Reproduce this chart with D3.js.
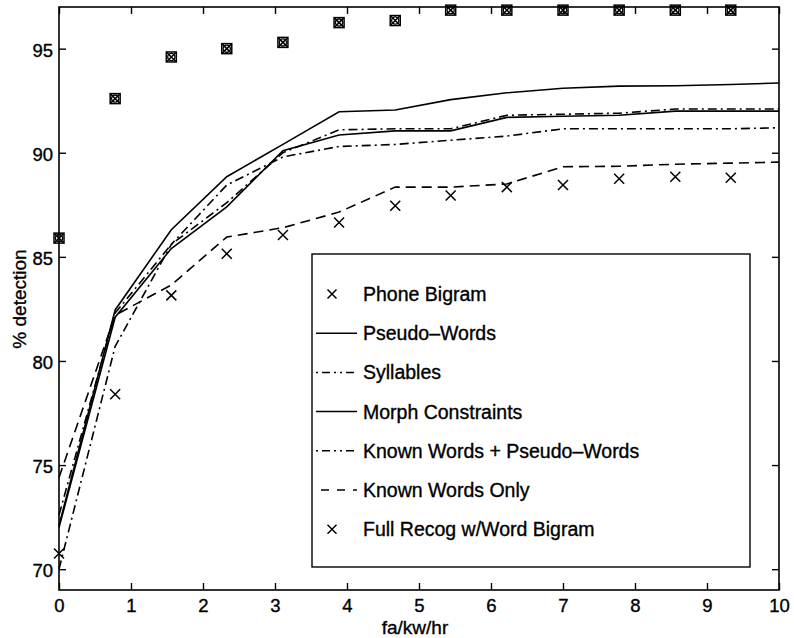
<!DOCTYPE html>
<html>
<head>
<meta charset="utf-8">
<script src="https://cdn.jsdelivr.net/npm/d3@7"></script>
<style>
  body { margin: 0; background: #fff; }
  svg { display: block; font-family: "Liberation Sans", Arial, sans-serif; }
  text { stroke: #000; stroke-width: 0.35px; }
</style>
</head>
<body>
<svg id="chart" width="794" height="638"></svg>
<script>
// x positions of the measured points (fa/kw/hr)
const markerX = [0, 0.78, 1.56, 2.33, 3.11, 3.89, 4.67, 5.44, 6.22, 7.0, 7.78, 8.56, 9.33];
const lineX = [0, 0.78, 1.56, 2.33, 3.11, 3.89, 4.67, 5.44, 6.22, 7.0, 7.78, 8.56, 9.33, 10];

const phoneBigram = [70.75, 78.4, 83.15, 85.15, 86.05, 86.65, 87.45, 87.95, 88.35, 88.45, 88.75, 88.85, 88.8];
const fullRecog = [85.9, 92.6, 94.6, 95.0, 95.3, 96.25, 96.35, 96.85, 96.85, 96.85, 96.85, 96.85, 96.85];
const pseudoWords = [72.1, 82.45, 86.3, 88.85, 90.4, 91.97, 92.05, 92.55, 92.88, 93.1, 93.2, 93.22, 93.28, 93.35];
const syllables = [70.0, 80.7, 85.6, 88.45, 89.8, 90.3, 90.4, 90.6, 90.8, 91.15, 91.15, 91.15, 91.15, 91.2];
const morphConstraints = [72.0, 82.1, 85.4, 87.4, 90.1, 90.85, 91.05, 91.05, 91.7, 91.75, 91.8, 92.0, 92.0, 92.0];
const knownPseudo = [72.6, 82.3, 85.6, 87.6, 90.0, 91.1, 91.15, 91.15, 91.8, 91.85, 91.9, 92.1, 92.1, 92.1];
const knownOnly = [74.4, 82.2, 83.65, 85.95, 86.4, 87.15, 88.35, 88.35, 88.5, 89.33, 89.35, 89.45, 89.5, 89.55];

const xTicks = [0, 1, 2, 3, 4, 5, 6, 7, 8, 9, 10];
const yTicks = [70, 75, 80, 85, 90, 95];
const legendLabels = ["Phone Bigram", "Pseudo\u2013Words", "Syllables", "Morph Constraints",
  "Known Words + Pseudo\u2013Words", "Known Words Only", "Full Recog w/Word Bigram"];

const svg = d3.select("#chart");
const x = d3.scaleLinear().domain([0, 10]).range([59, 779]);
const y = d3.scaleLinear().domain([69, 97]).range([590, 7]);

const dashed = "10,6";
const dashDot = "9,4,2,4";

// axes (ticks pointing inward, mirrored on top and right)
const tickLen = 7;
svg.append("g").attr("transform", "translate(0,590)")
  .call(d3.axisBottom(x).tickValues(xTicks).tickSize(-tickLen).tickPadding(9).tickFormat(d3.format("d")))
  .call(g => g.select(".domain").remove())
  .call(g => g.selectAll("text").attr("font-size", 18.5).attr("fill", "#000").attr("font-family", "Liberation Sans, Arial"));
svg.append("g").attr("transform", "translate(0,7)")
  .call(d3.axisTop(x).tickValues(xTicks).tickSize(-tickLen).tickFormat(""))
  .call(g => g.select(".domain").remove());
svg.append("g").attr("transform", "translate(59,0)")
  .call(d3.axisLeft(y).tickValues(yTicks).tickSize(-tickLen).tickPadding(6))
  .call(g => g.select(".domain").remove())
  .call(g => g.selectAll("text").attr("font-size", 18.5).attr("fill", "#000").attr("dy", "0.42em").attr("font-family", "Liberation Sans, Arial"));
svg.append("g").attr("transform", "translate(779,0)")
  .call(d3.axisRight(y).tickValues(yTicks).tickSize(-tickLen).tickFormat(""))
  .call(g => g.select(".domain").remove());
svg.selectAll(".tick line").attr("stroke", "#000").attr("stroke-width", 1.4);

svg.append("rect")
  .attr("x", x(0)).attr("y", y(97))
  .attr("width", x(10) - x(0)).attr("height", y(69) - y(97))
  .attr("fill", "none").attr("stroke", "#000").attr("stroke-width", 1.6);

// axis titles
svg.append("text").attr("x", 415).attr("y", 634)
  .attr("text-anchor", "middle").attr("font-size", 19).text("fa/kw/hr");
svg.append("text").attr("transform", "translate(26,299) rotate(-90)")
  .attr("text-anchor", "middle").attr("font-size", 19).text("% detection");

// lines
const line = d3.line().x((d, i) => x(lineX[i])).y(d => y(d));
const series = [
  { values: knownOnly, dash: dashed },
  { values: syllables, dash: dashDot },
  { values: knownPseudo, dash: dashDot },
  { values: morphConstraints, dash: null },
  { values: pseudoWords, dash: null }
];
series.forEach(s => {
  svg.append("path").datum(s.values)
    .attr("d", line)
    .attr("fill", "none")
    .attr("stroke", "#000")
    .attr("stroke-width", 1.6)
    .attr("stroke-dasharray", s.dash);
});

// markers
function cross(g, cx, cy, r) {
  g.append("path")
    .attr("d", `M${cx - r},${cy - r}L${cx + r},${cy + r}M${cx - r},${cy + r}L${cx + r},${cy - r}`)
    .attr("stroke", "#000").attr("stroke-width", 1.5).attr("fill", "none");
}
const markG = svg.append("g");
phoneBigram.forEach((v, i) => cross(markG, x(markerX[i]), y(v), 5));
fullRecog.forEach((v, i) => {
  const cx = x(markerX[i]), cy = y(v);
  markG.append("rect").attr("x", cx - 5).attr("y", cy - 5).attr("width", 10).attr("height", 10)
    .attr("fill", "none").attr("stroke", "#000").attr("stroke-width", 1.5);
  markG.append("circle").attr("cx", cx).attr("cy", cy).attr("r", 3.6)
    .attr("fill", "none").attr("stroke", "#000").attr("stroke-width", 1.3);
  cross(markG, cx, cy, 4.5);
});

// legend
const leg = svg.append("g");
leg.append("rect").attr("x", 312).attr("y", 254).attr("width", 438).attr("height", 313)
  .attr("fill", "#fff").attr("stroke", "#000").attr("stroke-width", 1.4);
const legendKinds = ["x", "solid", "dashdot", "solid", "dashdot", "dashed", "x"];
legendLabels.forEach((label, i) => {
  const ly = 294 + i * 39.2;
  const kind = legendKinds[i];
  if (kind === "x") {
    cross(leg, 332, ly, 4.5);
  } else {
    leg.append("line").attr("x1", kind === "dashed" ? 321 : 316).attr("x2", 357)
      .attr("y1", ly).attr("y2", ly)
      .attr("stroke", "#000").attr("stroke-width", 1.5)
      .attr("stroke-dasharray", kind === "dashed" ? "8,8" : kind === "dashdot" ? "2,4,8,4,2,4" : null);
  }
  leg.append("text").attr("x", 363).attr("y", ly).attr("dy", "0.36em")
    .attr("font-size", 19.5).text(label);
});
</script>
</body>
</html>
